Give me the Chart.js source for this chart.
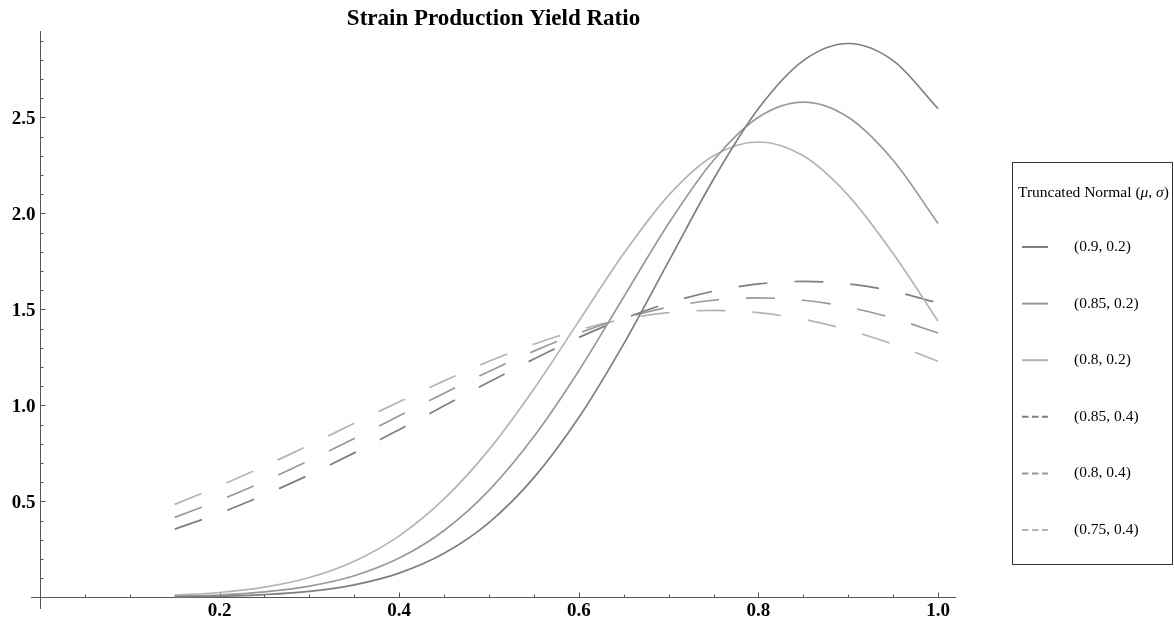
<!DOCTYPE html>
<html>
<head>
<meta charset="utf-8">
<script src="https://cdn.jsdelivr.net/npm/chart.js@4.4.1/dist/chart.umd.min.js"></script>
<style>
  html, body { margin: 0; padding: 0; background: #fff; }
  #contenedor { width: 1174px; height: 625px; }
</style>
</head>
<body>
<div id="contenedor"><canvas id="grafico-rendimiento"></canvas></div>
<script>
// Valores x comunes a todas las curvas
const xs = [0.15, 0.2, 0.25, 0.3, 0.35, 0.4, 0.45, 0.5, 0.55, 0.6, 0.65, 0.7, 0.75, 0.8, 0.85, 0.9, 0.95, 1.0];

// Curvas continuas (sigma = 0.2)
const normal09_02 = [0.003, 0.006, 0.015, 0.032, 0.066, 0.127, 0.230, 0.390, 0.624, 0.937, 1.321, 1.750, 2.178, 2.546, 2.796, 2.885, 2.796, 2.546];
const normal085_02 = [0.006, 0.013, 0.029, 0.059, 0.113, 0.205, 0.349, 0.558, 0.838, 1.181, 1.565, 1.948, 2.277, 2.501, 2.580, 2.501, 2.277, 1.948];
const normal08_02 = [0.012, 0.026, 0.054, 0.104, 0.189, 0.321, 0.513, 0.770, 1.086, 1.439, 1.791, 2.094, 2.300, 2.372, 2.300, 2.094, 1.791, 1.439];

// Curvas discontinuas (sigma = 0.4)
const normal085_04 = [0.356, 0.439, 0.534, 0.639, 0.753, 0.874, 0.998, 1.122, 1.242, 1.354, 1.452, 1.534, 1.595, 1.633, 1.646, 1.633, 1.595, 1.534];
const normal08_04 = [0.417, 0.506, 0.606, 0.714, 0.828, 0.946, 1.064, 1.177, 1.283, 1.377, 1.454, 1.512, 1.548, 1.560, 1.548, 1.512, 1.454, 1.377];
const normal075_04 = [0.485, 0.581, 0.684, 0.794, 0.907, 1.019, 1.128, 1.230, 1.319, 1.393, 1.449, 1.483, 1.495, 1.483, 1.449, 1.393, 1.319, 1.230];

const etiquetas = ["(0.9, 0.2)", "(0.85, 0.2)", "(0.8, 0.2)", "(0.85, 0.4)", "(0.8, 0.4)", "(0.75, 0.4)"];
const ticksX = [0.2, 0.4, 0.6, 0.8, 1.0];
const ticksY = [0.5, 1.0, 1.5, 2.0, 2.5];

const grisOscuro = "#7f7f7f";
const grisMedio = "#999999";
const grisClaro = "#b4b4b4";
const guiones = [29, 27];

const serie = (valores, etiqueta, color, guion) => ({
    label: etiqueta,
    data: valores.map((v, i) => ({ x: xs[i], y: v })),
    borderColor: color,
    borderWidth: 1.7,
    borderDash: guion,
    pointRadius: 0,
    fill: false,
    cubicInterpolationMode: "monotone",
});

// Ejes tipo Mathematica: cruzan en el origen con marcas menores
const ejes = {
    id: "ejes",
    beforeDatasetsDraw(chart) {
        const { ctx, scales: { x, y } } = chart;
        const x0 = Math.round(x.getPixelForValue(0)) + 0.5;
        const y0 = Math.round(y.getPixelForValue(0)) + 0.5;
        ctx.save();
        ctx.strokeStyle = "#555";
        ctx.lineWidth = 1;
        ctx.beginPath();
        ctx.moveTo(x.left, y0);
        ctx.lineTo(x.right, y0);
        ctx.moveTo(x0, y.top);
        ctx.lineTo(x0, y.bottom);
        for (let k = 1; k <= 20; k++) {
            const px = Math.round(x.getPixelForValue(k * 0.05)) + 0.5;
            const largo = k % 4 === 0 ? 5 : 3;
            ctx.moveTo(px, y0);
            ctx.lineTo(px, y0 - largo);
        }
        for (let k = 1; k <= 29; k++) {
            const py = Math.round(y.getPixelForValue(k * 0.1)) + 0.5;
            const largo = k % 5 === 0 ? 5 : 3;
            ctx.moveTo(x0, py);
            ctx.lineTo(x0 + largo, py);
        }
        ctx.stroke();

        ctx.fillStyle = "#000";
        ctx.font = "bold 19px 'Liberation Serif', serif";
        ctx.textBaseline = "alphabetic";
        ctx.textAlign = "center";
        ticksX.forEach((v) => ctx.fillText(v.toFixed(1), x.getPixelForValue(v), y0 + 18));
        ctx.textAlign = "right";
        ticksY.forEach((v) => ctx.fillText(v.toFixed(1), x0 - 5, y.getPixelForValue(v) + 6.5));
        ctx.restore();
    },
};

// Leyenda con recuadro a la derecha
const leyenda = {
    id: "leyenda",
    afterDraw(chart) {
        const { ctx } = chart;
        const izq = 1012, arriba = 162, ancho = 160, alto = 402;
        ctx.save();
        ctx.strokeStyle = "#333";
        ctx.lineWidth = 1;
        ctx.strokeRect(izq + 0.5, arriba + 0.5, ancho, alto);

        ctx.fillStyle = "#000";
        ctx.textBaseline = "middle";
        ctx.textAlign = "left";
        const partes = [["Truncated Normal (", ""], ["\u03bc", "italic "], [", ", ""], ["\u03c3", "italic "], [")", ""]];
        let px = izq + 6;
        partes.forEach(([texto, estilo]) => {
            ctx.font = estilo + "15.5px 'Liberation Serif', serif";
            ctx.fillText(texto, px, arriba + 31);
            px += ctx.measureText(texto).width;
        });

        ctx.font = "15.5px 'Liberation Serif', serif";
        chart.data.datasets.forEach((ds, i) => {
            const py = arriba + 85 + i * 56.6;
            ctx.beginPath();
            ctx.strokeStyle = ds.borderColor;
            ctx.lineWidth = 2;
            ctx.setLineDash(ds.borderDash.length ? [6.5, 3.5] : []);
            ctx.moveTo(izq + 10, py);
            ctx.lineTo(izq + 36, py);
            ctx.stroke();
            ctx.setLineDash([]);
            ctx.fillText(ds.label, izq + 62, py);
        });
        ctx.restore();
    },
};

document.addEventListener("DOMContentLoaded", () => {
    const ctx = document.getElementById("grafico-rendimiento").getContext("2d");

    new Chart(ctx, {
        type: "line",
        data: {
            datasets: [
                serie(normal09_02, etiquetas[0], grisOscuro, []),
                serie(normal085_02, etiquetas[1], grisMedio, []),
                serie(normal08_02, etiquetas[2], grisClaro, []),
                serie(normal085_04, etiquetas[3], grisOscuro, guiones),
                serie(normal08_04, etiquetas[4], grisMedio, guiones),
                serie(normal075_04, etiquetas[5], grisClaro, guiones),
            ],
        },
        options: {
            responsive: true,
            maintainAspectRatio: false,
            animation: false,
            layout: { padding: { left: 31, right: 218, top: 0, bottom: 16 } },
            scales: {
                x: { type: "linear", min: -0.01, max: 1.02, display: false },
                y: { type: "linear", min: -0.06, max: 2.95, display: false },
            },
            plugins: {
                legend: { display: false },
                tooltip: { enabled: false },
                title: {
                    display: true,
                    text: "Strain Production Yield Ratio",
                    fullSize: false,
                    color: "#000",
                    font: { family: "'Liberation Serif', serif", size: 23, weight: "bold", lineHeight: 1.0 },
                    padding: { top: 8, bottom: 0 },
                },
            },
        },
        plugins: [ejes, leyenda],
    });
});
</script>
</body>
</html>
